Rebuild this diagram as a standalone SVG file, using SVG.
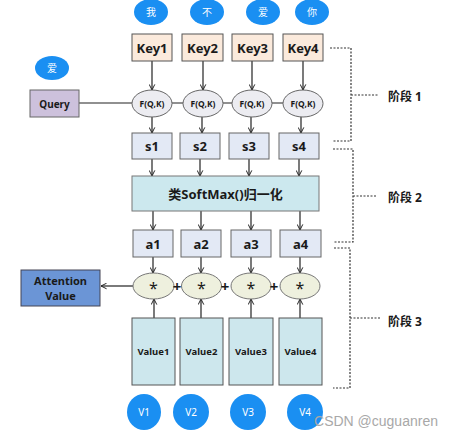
<svg xmlns="http://www.w3.org/2000/svg" width="451" height="439" viewBox="0 0 451 439">
<defs>
<marker id="ah" viewBox="0 0 10 10" refX="9" refY="5" markerWidth="7" markerHeight="7" orient="auto-start-reverse" markerUnits="userSpaceOnUse">
<path d="M1,1 L9,5 L1,9" fill="none" stroke="#222" stroke-width="1.4"/>
</marker>
<style>
text{font-family:"Noto Sans","Noto Sans CJK SC",sans-serif;text-anchor:middle;dominant-baseline:central;font-weight:bold;fill:#1a1a1a}
.bc{fill:#1a8ff2}
.bt{fill:#fff;font-weight:normal;font-size:10px}
.star{font-weight:normal;font-size:16px}
.key{fill:#fbeadc;stroke:#555;stroke-width:1}
.sb{fill:#e3e9f5;stroke:#666;stroke-width:1}
.fe{fill:#ececf1;stroke:#666;stroke-width:1}
.me{fill:#eef0de;stroke:#777;stroke-width:1}
.vb{fill:#cde7ed;stroke:#555;stroke-width:1}
.ln{stroke:#222;stroke-width:1.2;fill:none}
.ar{stroke:#222;stroke-width:1.2;fill:none;marker-end:url(#ah)}
.dl{stroke:#333;stroke-width:1.2;fill:none;stroke-dasharray:2 1.5}
.wm{font-family:"Liberation Sans",sans-serif;font-weight:normal;font-size:14px;fill:#a8a8a8}
</style>
</defs>

<g id="connectors">
<line class="ln" x1="79" y1="103" x2="285" y2="103"/>
<line class="ar" x1="152" y1="61" x2="152" y2="90"/>
<line class="ar" x1="203" y1="61" x2="203" y2="90"/>
<line class="ar" x1="252" y1="61" x2="252" y2="90"/>
<line class="ar" x1="303" y1="61" x2="303" y2="90"/>
<line class="ar" x1="152" y1="117" x2="152" y2="133"/>
<line class="ar" x1="202" y1="117" x2="202" y2="133"/>
<line class="ar" x1="251" y1="117" x2="251" y2="133"/>
<line class="ar" x1="301" y1="117" x2="301" y2="133"/>
<line class="ar" x1="152" y1="159" x2="152" y2="176"/>
<line class="ar" x1="200" y1="159" x2="200" y2="176"/>
<line class="ar" x1="249" y1="159" x2="249" y2="176"/>
<line class="ar" x1="299" y1="159" x2="299" y2="176"/>
<line class="ar" x1="153" y1="211" x2="153" y2="230"/>
<line class="ar" x1="201" y1="211" x2="201" y2="230"/>
<line class="ar" x1="251" y1="211" x2="251" y2="230"/>
<line class="ar" x1="300" y1="211" x2="300" y2="230"/>
<line class="ar" x1="153" y1="257" x2="153" y2="273"/>
<line class="ar" x1="201" y1="257" x2="201" y2="273"/>
<line class="ar" x1="251" y1="257" x2="251" y2="273"/>
<line class="ar" x1="300" y1="257" x2="300" y2="273"/>
<line class="ar" x1="154" y1="318" x2="154" y2="299"/>
<line class="ar" x1="201" y1="318" x2="201" y2="299"/>
<line class="ar" x1="251" y1="318" x2="251" y2="299"/>
<line class="ar" x1="300" y1="318" x2="300" y2="299"/>
<line class="ar" x1="133" y1="286" x2="101" y2="286"/>
<path class="dl" d="M330,48 H351 V141 H333 M351,95 H378"/>
<path class="dl" d="M333,149 H353 V242 H334 M353,196 H376"/>
<path class="dl" d="M334,248 H350 V388 H333 M350,318 H381"/>
</g>

<g id="w1"><ellipse class="bc" cx="151" cy="12" rx="17" ry="13"/><text class="bt" x="151" y="12">我</text></g>
<g id="w2"><ellipse class="bc" cx="207" cy="12" rx="17" ry="13"/><text class="bt" x="207" y="12">不</text></g>
<g id="w3"><ellipse class="bc" cx="263" cy="12" rx="17" ry="13"/><text class="bt" x="263" y="12">爱</text></g>
<g id="w4"><ellipse class="bc" cx="312" cy="12" rx="17" ry="13"/><text class="bt" x="312" y="12">你</text></g>
<g id="wq"><ellipse class="bc" cx="52" cy="68" rx="17" ry="12"/><text class="bt" x="52" y="68">爱</text></g>

<g id="key1"><rect class="key" x="132" y="34" width="40" height="27"/><text x="152" y="47.5" font-size="13">Key1</text></g>
<g id="key2"><rect class="key" x="182" y="34" width="41" height="27"/><text x="202.5" y="47.5" font-size="13">Key2</text></g>
<g id="key3"><rect class="key" x="232" y="34" width="41" height="27"/><text x="252.5" y="47.5" font-size="13">Key3</text></g>
<g id="key4"><rect class="key" x="283" y="34" width="40" height="27"/><text x="303" y="47.5" font-size="13">Key4</text></g>

<g id="query"><rect x="30" y="90" width="49" height="27" fill="#cdc1dc" stroke="#666"/><text x="54.5" y="103.5" font-size="10">Query</text></g>

<g id="f1"><ellipse class="fe" cx="152" cy="103.5" rx="20" ry="13.5"/><text x="152" y="103.5" font-size="8.5">F(Q,K)</text></g>
<g id="f2"><ellipse class="fe" cx="203" cy="103.5" rx="20" ry="13.5"/><text x="203" y="103.5" font-size="8.5">F(Q,K)</text></g>
<g id="f3"><ellipse class="fe" cx="252" cy="103.5" rx="20" ry="13.5"/><text x="252" y="103.5" font-size="8.5">F(Q,K)</text></g>
<g id="f4"><ellipse class="fe" cx="303" cy="103.5" rx="20" ry="13.5"/><text x="303" y="103.5" font-size="8.5">F(Q,K)</text></g>

<g id="s1"><rect class="sb" x="132" y="133" width="40" height="26"/><text x="152" y="146" font-size="13">s1</text></g>
<g id="s2"><rect class="sb" x="180" y="133" width="40" height="26"/><text x="200" y="146" font-size="13">s2</text></g>
<g id="s3"><rect class="sb" x="229" y="133" width="40" height="26"/><text x="249" y="146" font-size="13">s3</text></g>
<g id="s4"><rect class="sb" x="279" y="133" width="40" height="26"/><text x="299" y="146" font-size="13">s4</text></g>

<g id="softmax"><rect x="132" y="176" width="187" height="35" fill="#cce8ee" stroke="#777"/><text x="225.5" y="193.5" font-size="13">类SoftMax()归一化</text></g>

<g id="a1"><rect class="sb" x="133" y="230" width="40" height="27"/><text x="153" y="243.5" font-size="13">a1</text></g>
<g id="a2"><rect class="sb" x="181" y="230" width="40" height="27"/><text x="201" y="243.5" font-size="13">a2</text></g>
<g id="a3"><rect class="sb" x="231" y="230" width="40" height="27"/><text x="251" y="243.5" font-size="13">a3</text></g>
<g id="a4"><rect class="sb" x="280" y="230" width="41" height="27"/><text x="300.5" y="243.5" font-size="13">a4</text></g>

<g id="m1"><ellipse class="me" cx="153.5" cy="286" rx="20.5" ry="13"/><text class="star" x="153.5" y="288">*</text></g>
<g id="m2"><ellipse class="me" cx="201.5" cy="286" rx="20" ry="13"/><text class="star" x="201.5" y="288">*</text></g>
<g id="m3"><ellipse class="me" cx="251" cy="286" rx="20" ry="13"/><text class="star" x="251" y="288">*</text></g>
<g id="m4"><ellipse class="me" cx="300" cy="286" rx="20" ry="13"/><text class="star" x="300" y="288">*</text></g>
<g id="plus"><text x="177" y="286" font-size="15">+</text><text x="225" y="286" font-size="15">+</text><text x="274" y="286" font-size="15">+</text></g>

<g id="attention"><rect x="21" y="270" width="79" height="36" fill="#6b95d6" stroke="#445"/><text x="60.5" y="280" font-size="11">Attention</text><text x="60.5" y="295" font-size="11">Value</text></g>

<g id="v1"><rect class="vb" x="132" y="318" width="43" height="67"/><text x="153.5" y="351" font-size="9.5">Value1</text></g>
<g id="v2"><rect class="vb" x="180" y="318" width="43" height="67"/><text x="201.5" y="351" font-size="9.5">Value2</text></g>
<g id="v3"><rect class="vb" x="229" y="318" width="44" height="67"/><text x="251" y="351" font-size="9.5">Value3</text></g>
<g id="v4"><rect class="vb" x="279" y="318" width="43" height="67"/><text x="300.5" y="351" font-size="9.5">Value4</text></g>

<g id="c1"><ellipse class="bc" cx="144" cy="412" rx="17" ry="18"/><text class="bt" x="144" y="412">V1</text></g>
<g id="c2"><ellipse class="bc" cx="191" cy="412" rx="18" ry="18"/><text class="bt" x="191" y="412">V2</text></g>
<g id="c3"><ellipse class="bc" cx="248" cy="412" rx="18" ry="18"/><text class="bt" x="248" y="412">V3</text></g>
<g id="c4"><ellipse class="bc" cx="305" cy="412" rx="18" ry="18"/><text class="bt" x="305" y="412">V4</text></g>

<g id="stage1"><text x="405" y="96" font-size="12">阶段 1</text></g>
<g id="stage2"><text x="405" y="197" font-size="12">阶段 2</text></g>
<g id="stage3"><text x="405" y="321" font-size="12">阶段 3</text></g>

<text class="wm" x="376" y="421">CSDN @cuguanren</text>
</svg>
